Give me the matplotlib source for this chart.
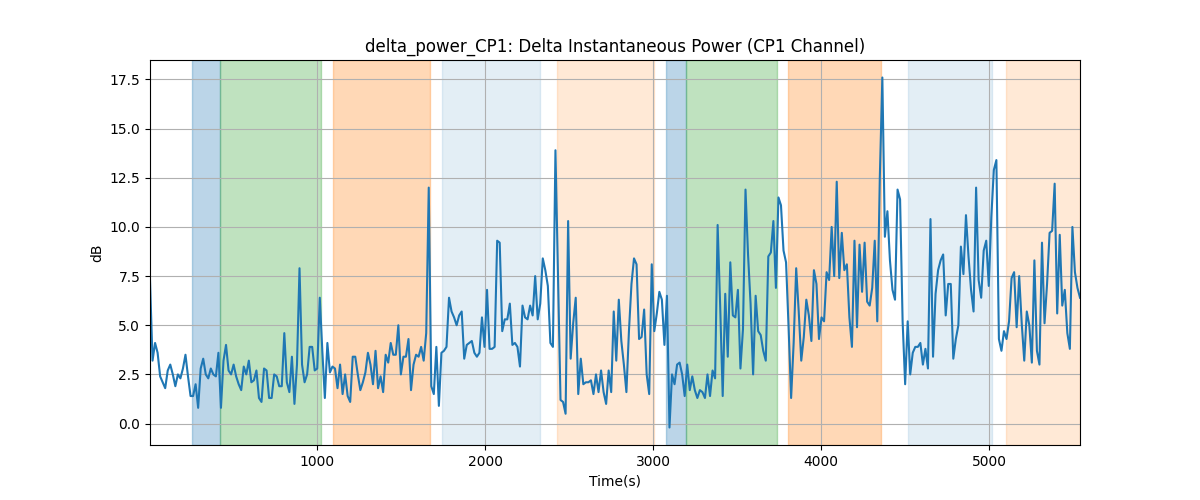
import numpy as np
import matplotlib
matplotlib.use('Agg')
import matplotlib.pyplot as plt

# delta power readings (dB), sampled evenly from t_start to t_end
t_start = 5
t_end = 5540
power_db = [
    7.3, 3.2, 4.1, 3.6, 2.4, 2.1, 1.8, 2.7, 3.0, 2.5, 1.9, 2.5, 2.3, 2.8, 3.5, 2.4, 1.4, 1.4, 2.0, 0.8,
    2.8, 3.3, 2.5, 2.3, 2.8, 2.5, 2.4, 3.6, 0.8, 3.2, 4.0, 2.7, 2.5, 3.0, 2.4, 2.0, 1.7, 2.9, 2.5, 3.2,
    2.1, 2.2, 2.7, 1.3, 1.1, 2.8, 2.7, 1.3, 1.3, 2.5, 2.4, 1.9,
    1.9, 4.6, 2.1, 1.6, 3.4, 1.0, 3.0, 7.9, 3.0, 2.1, 2.5, 3.9, 3.9, 2.7, 2.8, 6.4, 3.7, 1.3, 4.1, 2.6,
    2.9, 2.8, 1.8, 3.0, 1.5, 2.5, 1.4, 1.1, 3.4, 3.4, 2.5, 1.7, 2.1, 2.6, 3.6, 3.0, 2.0, 3.7, 1.8, 2.4,
    1.6, 3.5, 3.1, 4.1, 3.5, 3.5, 5.0, 2.5, 3.4, 3.4, 4.3, 1.7,
    3.0, 3.5, 3.4, 3.9, 3.2, 4.6, 12.0, 1.9, 1.5, 3.9, 0.9, 3.6, 3.7, 3.9, 6.4, 5.7, 5.4, 5.0, 5.5, 5.7,
    3.3, 4.0, 4.1, 4.2, 3.6, 3.4, 3.6, 5.4, 3.9, 6.8, 3.8, 3.8, 3.9, 9.3, 9.2, 4.7, 5.3, 5.3, 6.1, 4.0,
    4.1, 3.9, 2.9, 6.0, 5.4, 5.3, 6.0, 5.5, 7.5, 5.3, 6.1, 8.4, 7.8,
    7.0, 4.1, 3.9, 13.9, 7.5, 1.2, 1.1, 0.5, 10.3, 3.3, 5.1, 6.4, 1.5, 3.3, 2.0, 2.1, 2.1, 2.2, 1.5, 2.5,
    1.6, 2.7, 1.6, 1.0, 2.7, 1.6, 5.7, 3.2, 6.3, 4.2, 3.0, 1.6, 4.7, 7.1, 8.4, 8.1, 4.3, 4.4, 5.8, 2.5,
    1.5, 8.1, 4.7, 5.6, 6.7, 6.3, 4.0, 6.5, -0.2, 2.5, 2.0, 3.0, 3.1,
    2.5, 1.4, 3.0, 1.7, 2.4, 1.7, 1.3, 1.7, 1.6, 1.3, 2.5, 1.4, 2.7, 2.3, 10.1, 6.0, 1.4, 6.6, 3.4, 8.2,
    5.5, 5.4, 6.8, 2.8, 4.8, 11.9, 8.6, 6.1, 2.5, 6.5, 4.7, 4.5, 3.7, 3.2, 8.5, 8.7, 10.3, 6.9, 11.5, 11.1,
    8.8, 8.2, 4.9, 1.3, 4.1, 7.9, 5.7, 3.2, 4.4, 6.3, 5.5, 4.2, 7.8,
    7.1, 4.3, 5.4, 5.2, 7.7, 7.3, 10.0, 7.5, 12.3, 7.4, 9.7, 7.8, 8.1, 5.4, 3.9, 9.3, 4.9, 9.1, 6.7, 9.2,
    6.2, 6.0, 6.9, 9.3, 5.2, 12.5, 17.6, 9.5, 10.8, 8.3, 6.8, 6.3, 11.9, 11.4, 5.2, 2.0, 5.2, 2.5, 3.6, 3.9,
    3.9, 4.1, 3.0, 3.8, 2.8, 10.4, 3.4, 6.6, 7.8, 8.3, 8.6, 5.5, 7.1,
    7.1, 3.3, 4.3, 5.0, 9.0, 7.6, 10.6, 8.5, 6.8, 5.7, 12.0, 7.3, 6.4, 8.8, 9.3, 7.0, 10.5, 12.9, 13.4, 4.3,
    3.7, 4.7, 4.3, 5.2, 7.4, 7.7, 4.9, 7.5, 5.1, 3.2, 5.7, 5.0, 3.1, 8.3, 3.7, 3.0, 9.2, 5.1, 7.1, 9.7,
    9.8, 12.2, 5.6, 9.6, 6.0, 6.8, 4.6, 3.8, 10.0, 7.7, 6.9, 6.4,
]

# shaded phases (seconds)
span_starts = [256, 423, 1095, 1744, 2429, 3077, 3196, 3804, 4518, 5101]
span_ends = [423, 1024, 1673, 2327, 3006, 3196, 3738, 4357, 5018, 5540]
span_kinds = ['a', 'b', 'c', 'd', 'e', 'a', 'b', 'c', 'd', 'e']
kind_style = {
    'a': ('tab:blue', 0.3),
    'b': ('tab:green', 0.3),
    'c': ('tab:orange', 0.3),
    'd': ('tab:blue', 0.12),
    'e': ('tab:orange', 0.17),
}

times = np.linspace(t_start, t_end, len(power_db))

fig, ax = plt.subplots(figsize=(12, 5), dpi=100)
for s, e, k in zip(span_starts, span_ends, span_kinds):
    color, alpha = kind_style[k]
    ax.axvspan(s, e, color=color, alpha=alpha)
ax.plot(times, power_db, '-', color='tab:blue')
ax.set_xlim(times[0], times[-1])
ax.grid(True)
ax.set_title('delta_power_CP1: Delta Instantaneous Power (CP1 Channel)')
ax.set_xlabel('Time(s)')
ax.set_ylabel('dB')
fig.savefig('out.png')
